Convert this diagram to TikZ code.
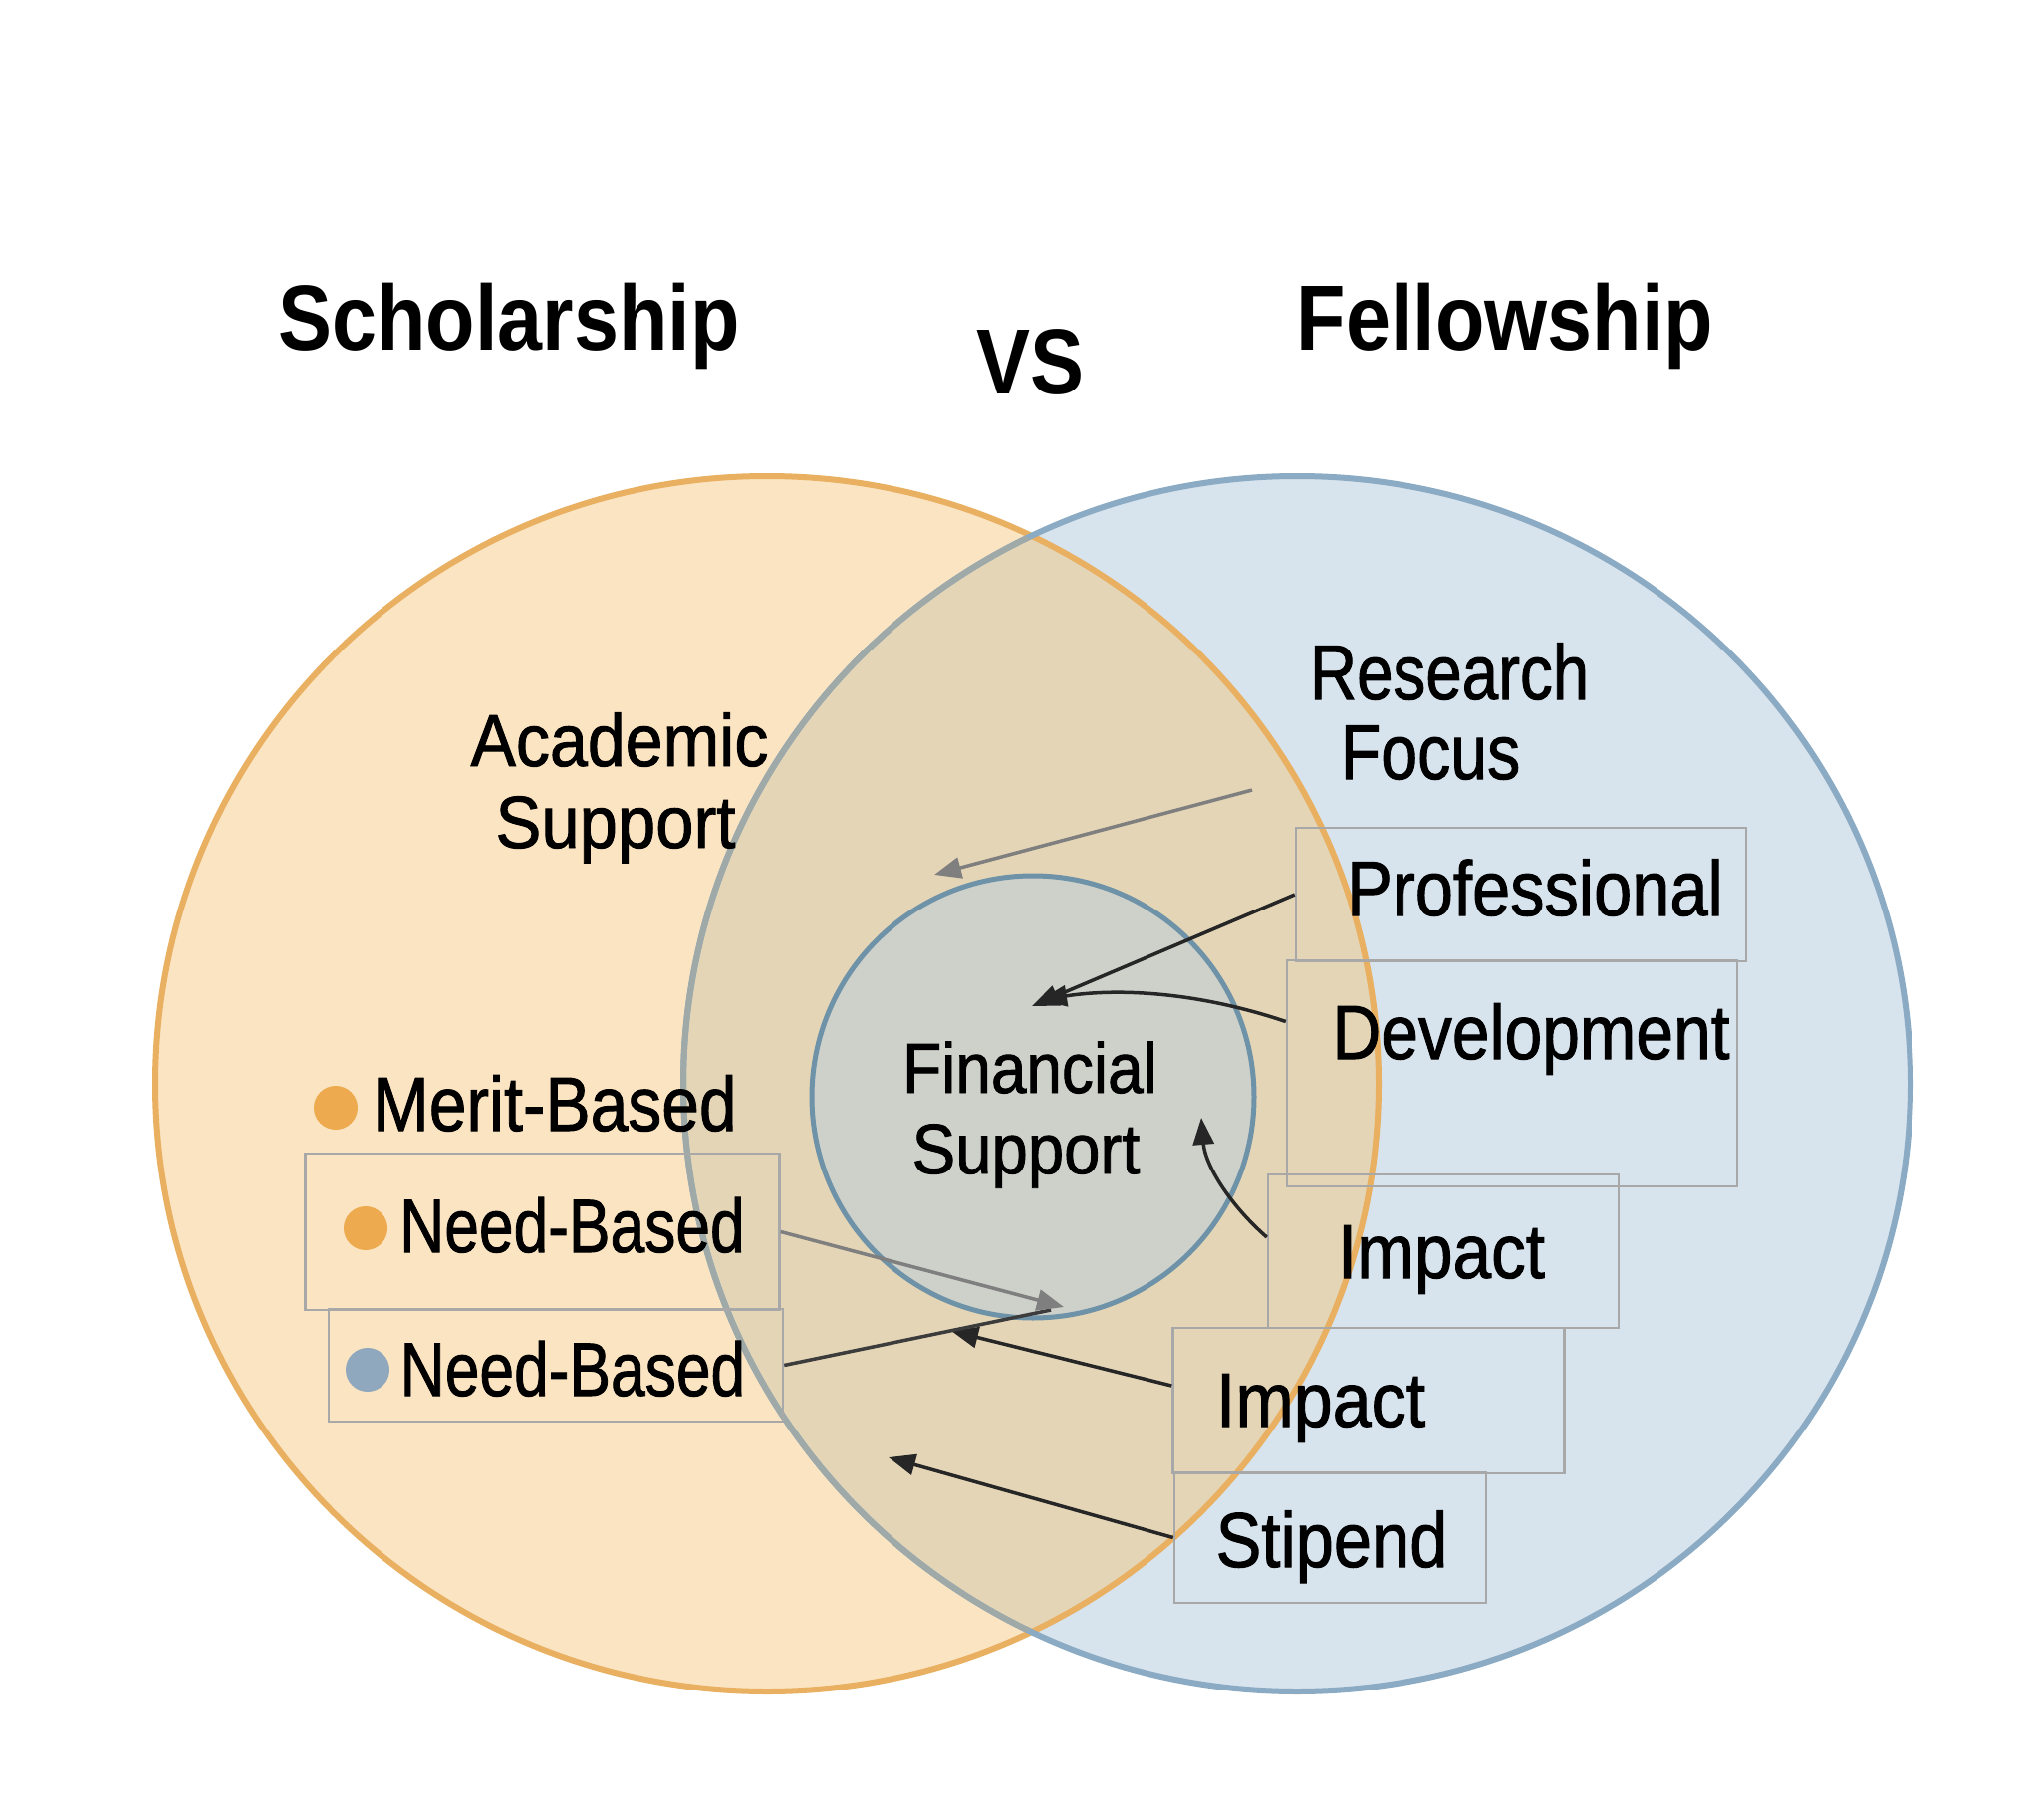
\documentclass[tikz,border=0pt]{standalone}
\usepackage{fontspec}
\usepackage{graphicx}
\usetikzlibrary{arrows.meta,calc}
\newfontfamily\labfont[FakeBold=1.3]{Liberation Sans}
\newfontfamily\ttlfont[FakeStretch=0.87]{Liberation Sans}
\newcommand\fsz[1]{\fontsize{#1}{#1}\selectfont}
\newcommand\sx[2]{\scalebox{#1}[1]{#2}}
\definecolor{peach}{HTML}{FBE4C2}
\definecolor{skyfill}{HTML}{D7E3ED}
\definecolor{tanfill}{HTML}{E4D5B6}
\definecolor{innerfill}{HTML}{CED0CA}
\definecolor{orangeline}{HTML}{E8B060}
\definecolor{blueline}{HTML}{8BAAC3}
\definecolor{grayblueline}{HTML}{9EA9A8}
\definecolor{innerline}{HTML}{6E92A7}
\definecolor{boxline}{HTML}{A8A8A8}
\definecolor{darkline}{HTML}{262626}
\definecolor{midline}{HTML}{3C3C3C}
\definecolor{grayline}{HTML}{7F7F7F}
\definecolor{dotorange}{HTML}{EDAA4E}
\definecolor{dotblue}{HTML}{8FA8BD}
\tikzset{
  lbl/.style={inner sep=0pt, anchor=base, text=black, font=\labfont\fsz{#1}},
  lbl/.default=77,
  ttl/.style={inner sep=0pt, anchor=base, text=black, font=\ttlfont\bfseries\fsz{93}},
  boxnode/.style={draw=boxline, line width=2.5pt, fill=none, inner sep=0pt},
  dotnode/.style={circle, inner sep=0pt, minimum size=44pt, draw=none},
  darr/.style={draw=darkline, line width=3.5pt, -{Triangle[length=27pt,width=21pt]}},
  garr/.style={draw=grayline, line width=3.5pt, -{Triangle[length=27pt,width=21pt]}},
}
\begin{document}
\begin{tikzpicture}[x=1pt,y=-1pt]
\useasboundingbox[fill=white] (0,0) rectangle (2048,1827);
% circle fills
\fill[peach] (770,1088) ellipse [x radius=614, y radius=610];
\fill[skyfill] (1302,1088) ellipse [x radius=616, y radius=610];
\begin{scope}
  \clip (770,1088) ellipse [x radius=614, y radius=610];
  \fill[tanfill] (1302,1088) ellipse [x radius=616, y radius=610];
\end{scope}
\fill[innerfill] (1037,1101) circle [radius=222];
% circle strokes
\draw[orangeline, line width=6pt] (770,1088) ellipse [x radius=614, y radius=610];
\draw[blueline, line width=6pt] (1302,1088) ellipse [x radius=616, y radius=610];
\begin{scope}
  \clip (770,1088) ellipse [x radius=611, y radius=607];
  \draw[grayblueline, line width=6pt] (1302,1088) ellipse [x radius=616, y radius=610];
\end{scope}
\draw[innerline, line width=5pt] (1037,1101) circle [radius=222];

% titles
\node[ttl] (schol) at (511,351) {Scholarship};
\node[ttl] (vs) at (1034,395) {VS};
\node[ttl] (fell) at (1511,351) {Fellowship};

% boxes
\node[boxnode, minimum width=452pt, minimum height=134pt] (profbox) at (1527,898) {};
\node[boxnode, minimum width=452pt, minimum height=227pt] (devbox) at (1518,1077.5) {};
\node[boxnode, minimum width=352pt, minimum height=154pt] (imp1box) at (1449,1256) {};
\node[boxnode, minimum width=393pt, minimum height=146pt] (imp2box) at (1374,1406) {};
\node[boxnode, minimum width=313pt, minimum height=131pt] (stipbox) at (1335.5,1543.5) {};
\node[boxnode, minimum width=476pt, minimum height=157pt] (need1box) at (544.5,1236.5) {};
\node[boxnode, minimum width=456pt, minimum height=113pt] (need2box) at (558,1370.5) {};

% dots
\node[dotnode, fill=dotorange] (dot1) at (337,1112) {};
\node[dotnode, fill=dotorange] (dot2) at (367,1233) {};
\node[dotnode, fill=dotblue] (dot3) at (369,1375) {};

% labels
\node[lbl=74] (acad1) at (622,769) {\sx{0.92}{Academic}};
\node[lbl=74] (acad2) at (618,851) {\sx{0.93}{Support}};
\node[lbl=78] (res1) at (1455,702) {\sx{0.84}{Research}};
\node[lbl=78] (res2) at (1436,782) {\sx{0.85}{Focus}};
\node[lbl=78] (prof) at (1541,919) {\sx{0.88}{Professional}};
\node[lbl=77] (dev) at (1537,1063) {\sx{0.88}{Development}};
\node[lbl=77] (imp1) at (1447,1283) {\sx{0.9}{Impact}};
\node[lbl=77] (imp2) at (1326,1432) {\sx{0.91}{Impact}};
\node[lbl=78] (stip) at (1337,1573) {\sx{0.88}{Stipend}};
\node[lbl=77] (merit) at (557,1135) {\sx{0.88}{Merit-Based}};
\node[lbl=76] (need1) at (574.5,1257) {\sx{0.82}{Need-Based}};
\node[lbl=76] (need2) at (575,1401) {\sx{0.82}{Need-Based}};
\node[lbl=71] (fin1) at (1034,1097) {\sx{0.9}{Financial}};
\node[lbl=71] (fin2) at (1030,1178) {\sx{0.92}{Support}};

% connector endpoints
\coordinate (resstart) at (1257,793);
\coordinate (tres) at (938,878);
\coordinate (tprof) at (1036,1010);
\coordinate (tdev) at (1044,1004);
\coordinate (timp1) at (1206,1122);
\coordinate (timp2) at (955,1336);
\coordinate (tstip) at (892,1463);
\coordinate (tneed1) at (1068,1312);
\coordinate (eneed2) at (1055,1315);

% connectors
\draw[garr] (resstart) -- (tres);
\draw[darr] (profbox.west) -- (tprof);
\draw[darr] ([yshift=52pt]devbox.west) .. controls (1200,995) and (1120,992) .. (tdev);
\draw[darr] ([yshift=14pt]imp1box.west) .. controls (1235,1210) and (1210,1170) .. (timp1);
\draw[darr] ([yshift=15pt]imp2box.west) -- (timp2);
\draw[darr] (stipbox.west) -- (tstip);
\draw[draw=midline, line width=3.5pt] (need2box.east) -- (eneed2);
\draw[garr] (need1box.east) -- (tneed1);
\end{tikzpicture}
\end{document}
